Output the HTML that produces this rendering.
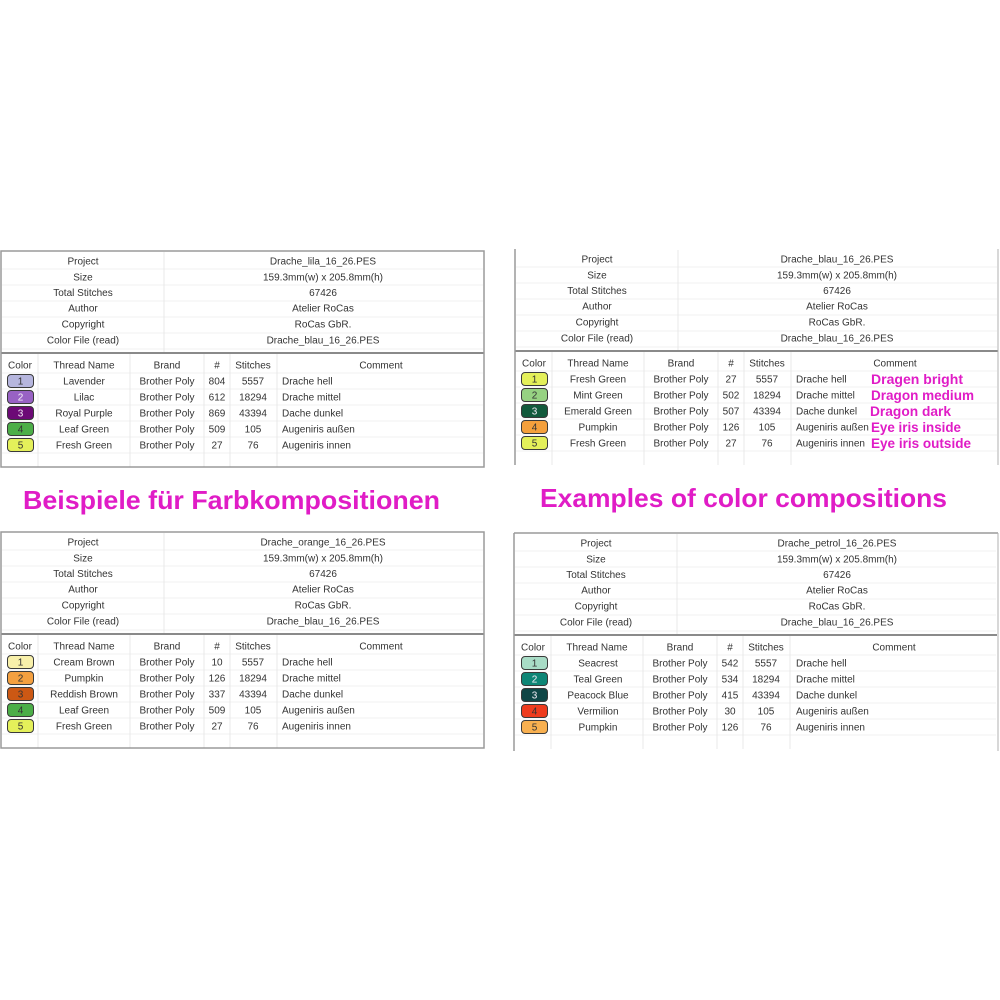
<!DOCTYPE html>
<html><head><meta charset="utf-8">
<style>
html,body{margin:0;padding:0;background:#fff;}
svg{display:block;}
text{font-family:"Liberation Sans",sans-serif;font-size:10px;fill:#333;}
.c{text-anchor:middle;}
.w{fill:#f4eef8;}
.h{font-weight:bold;font-size:26px;fill:#e01cc6;}
.p{font-weight:bold;font-size:14px;fill:#e01cc6;}
.sw{stroke:#3a3a3a;stroke-width:1;}
</style></head>
<body>
<svg width="1000" height="1000" viewBox="0 0 1000 1000" xmlns="http://www.w3.org/2000/svg">
<defs>
<g id="grid">
  <g stroke="#f0f0f0" stroke-width="1">
    <line x1="1" y1="18" x2="482" y2="18"/>
    <line x1="1" y1="34" x2="482" y2="34"/>
    <line x1="1" y1="50" x2="482" y2="50"/>
    <line x1="1" y1="66" x2="482" y2="66"/>
    <line x1="1" y1="82" x2="482" y2="82"/>
    <line x1="1" y1="98" x2="482" y2="98"/>
    <line x1="1" y1="122" x2="482" y2="122"/>
    <line x1="1" y1="138" x2="482" y2="138"/>
    <line x1="1" y1="154" x2="482" y2="154"/>
    <line x1="1" y1="170" x2="482" y2="170"/>
    <line x1="1" y1="186" x2="482" y2="186"/>
    <line x1="1" y1="202" x2="482" y2="202"/>
  </g>
  <g stroke="#e8e8e8" stroke-width="1">
    <line x1="163" y1="1" x2="163" y2="101"/>
    <line x1="37" y1="103" x2="37" y2="216"/>
    <line x1="129" y1="103" x2="129" y2="216"/>
    <line x1="203" y1="103" x2="203" y2="216"/>
    <line x1="229" y1="103" x2="229" y2="216"/>
    <line x1="276" y1="103" x2="276" y2="216"/>
  </g>
  <line x1="0" y1="102" x2="483" y2="102" stroke="#8a8a8a" stroke-width="2"/>
</g>
</defs>

<rect width="1000" height="1000" fill="#fff"/>

<!-- ============ TABLE 1 (top-left) ============ -->
<g transform="translate(1,251)">
  <use href="#grid"/>
  <rect x="0" y="0" width="483" height="216" fill="none" stroke="#9a9a9a" stroke-width="1.5"/>
  <text class="c" x="82" y="13.5">Project</text>
  <text class="c" x="82" y="29.5">Size</text>
  <text class="c" x="82" y="45">Total Stitches</text>
  <text class="c" x="82" y="60.5">Author</text>
  <text class="c" x="82" y="76.5">Copyright</text>
  <text class="c" x="82" y="92.5">Color File (read)</text>
  <text class="c" x="322" y="13.5">Drache_lila_16_26.PES</text>
  <text class="c" x="322" y="29.5">159.3mm(w) x 205.8mm(h)</text>
  <text class="c" x="322" y="45">67426</text>
  <text class="c" x="322" y="60.5">Atelier RoCas</text>
  <text class="c" x="322" y="76.5">RoCas GbR.</text>
  <text class="c" x="322" y="92.5">Drache_blau_16_26.PES</text>

  <text class="c" x="19" y="117.5">Color</text>
  <text class="c" x="83" y="117.5">Thread Name</text>
  <text class="c" x="166" y="117.5">Brand</text>
  <text class="c" x="216" y="117.5">#</text>
  <text class="c" x="252" y="117.5">Stitches</text>
  <text class="c" x="380" y="117.5">Comment</text>

  <rect class="sw" x="6.5" y="123.5" width="26" height="13" rx="3.5" fill="#b6b6de"/>
  <rect class="sw" x="6.5" y="139.5" width="26" height="13" rx="3.5" fill="#9862c4"/>
  <rect class="sw" x="6.5" y="155.5" width="26" height="13" rx="3.5" fill="#6c0a76"/>
  <rect class="sw" x="6.5" y="171.5" width="26" height="13" rx="3.5" fill="#4cae48"/>
  <rect class="sw" x="6.5" y="187.5" width="26" height="13" rx="3.5" fill="#e4f05a"/>
  <text class="c" x="19.5" y="133.5">1</text>
  <text class="c w" x="19.5" y="149.5">2</text>
  <text class="c w" x="19.5" y="165.5">3</text>
  <text class="c" x="19.5" y="181.5">4</text>
  <text class="c" x="19.5" y="197.5">5</text>

  <text class="c" x="83" y="133.5">Lavender</text>
  <text class="c" x="83" y="149.5">Lilac</text>
  <text class="c" x="83" y="165.5">Royal Purple</text>
  <text class="c" x="83" y="181.5">Leaf Green</text>
  <text class="c" x="83" y="197.5">Fresh Green</text>
  <text class="c" x="166" y="133.5">Brother Poly</text>
  <text class="c" x="166" y="149.5">Brother Poly</text>
  <text class="c" x="166" y="165.5">Brother Poly</text>
  <text class="c" x="166" y="181.5">Brother Poly</text>
  <text class="c" x="166" y="197.5">Brother Poly</text>
  <text class="c" x="216" y="133.5">804</text>
  <text class="c" x="216" y="149.5">612</text>
  <text class="c" x="216" y="165.5">869</text>
  <text class="c" x="216" y="181.5">509</text>
  <text class="c" x="216" y="197.5">27</text>
  <text class="c" x="252" y="133.5">5557</text>
  <text class="c" x="252" y="149.5">18294</text>
  <text class="c" x="252" y="165.5">43394</text>
  <text class="c" x="252" y="181.5">105</text>
  <text class="c" x="252" y="197.5">76</text>
  <text x="281" y="133.5">Drache hell</text>
  <text x="281" y="149.5">Drache mittel</text>
  <text x="281" y="165.5">Dache dunkel</text>
  <text x="281" y="181.5">Augeniris außen</text>
  <text x="281" y="197.5">Augeniris innen</text>
</g>

<!-- ============ TABLE 2 (top-right) ============ -->
<g transform="translate(515,249)">
  <use href="#grid"/>
  <line x1="0" y1="0" x2="0" y2="216" stroke="#9a9a9a" stroke-width="1.5"/>
  <line x1="483" y1="0" x2="483" y2="216" stroke="#b0b0b0" stroke-width="1"/>
  <text class="c" x="82" y="13.5">Project</text>
  <text class="c" x="82" y="29.5">Size</text>
  <text class="c" x="82" y="45">Total Stitches</text>
  <text class="c" x="82" y="60.5">Author</text>
  <text class="c" x="82" y="76.5">Copyright</text>
  <text class="c" x="82" y="92.5">Color File (read)</text>
  <text class="c" x="322" y="13.5">Drache_blau_16_26.PES</text>
  <text class="c" x="322" y="29.5">159.3mm(w) x 205.8mm(h)</text>
  <text class="c" x="322" y="45">67426</text>
  <text class="c" x="322" y="60.5">Atelier RoCas</text>
  <text class="c" x="322" y="76.5">RoCas GbR.</text>
  <text class="c" x="322" y="92.5">Drache_blau_16_26.PES</text>

  <text class="c" x="19" y="117.5">Color</text>
  <text class="c" x="83" y="117.5">Thread Name</text>
  <text class="c" x="166" y="117.5">Brand</text>
  <text class="c" x="216" y="117.5">#</text>
  <text class="c" x="252" y="117.5">Stitches</text>
  <text class="c" x="380" y="117.5">Comment</text>

  <rect class="sw" x="6.5" y="123.5" width="26" height="13" rx="3.5" fill="#e4f05a"/>
  <rect class="sw" x="6.5" y="139.5" width="26" height="13" rx="3.5" fill="#96d282"/>
  <rect class="sw" x="6.5" y="155.5" width="26" height="13" rx="3.5" fill="#125a3c"/>
  <rect class="sw" x="6.5" y="171.5" width="26" height="13" rx="3.5" fill="#f4a03c"/>
  <rect class="sw" x="6.5" y="187.5" width="26" height="13" rx="3.5" fill="#e4f05a"/>
  <text class="c" x="19.5" y="133.5">1</text>
  <text class="c" x="19.5" y="149.5">2</text>
  <text class="c w" x="19.5" y="165.5">3</text>
  <text class="c" x="19.5" y="181.5">4</text>
  <text class="c" x="19.5" y="197.5">5</text>

  <text class="c" x="83" y="133.5">Fresh Green</text>
  <text class="c" x="83" y="149.5">Mint Green</text>
  <text class="c" x="83" y="165.5">Emerald Green</text>
  <text class="c" x="83" y="181.5">Pumpkin</text>
  <text class="c" x="83" y="197.5">Fresh Green</text>
  <text class="c" x="166" y="133.5">Brother Poly</text>
  <text class="c" x="166" y="149.5">Brother Poly</text>
  <text class="c" x="166" y="165.5">Brother Poly</text>
  <text class="c" x="166" y="181.5">Brother Poly</text>
  <text class="c" x="166" y="197.5">Brother Poly</text>
  <text class="c" x="216" y="133.5">27</text>
  <text class="c" x="216" y="149.5">502</text>
  <text class="c" x="216" y="165.5">507</text>
  <text class="c" x="216" y="181.5">126</text>
  <text class="c" x="216" y="197.5">27</text>
  <text class="c" x="252" y="133.5">5557</text>
  <text class="c" x="252" y="149.5">18294</text>
  <text class="c" x="252" y="165.5">43394</text>
  <text class="c" x="252" y="181.5">105</text>
  <text class="c" x="252" y="197.5">76</text>
  <text x="281" y="133.5">Drache hell</text>
  <text x="281" y="149.5">Drache mittel</text>
  <text x="281" y="165.5">Dache dunkel</text>
  <text x="281" y="181.5">Augeniris außen</text>
  <text x="281" y="197.5">Augeniris innen</text>

  <text class="p" x="356" y="135" textLength="92" lengthAdjust="spacingAndGlyphs">Dragen bright</text>
  <text class="p" x="356" y="151" textLength="103" lengthAdjust="spacingAndGlyphs">Dragon medium</text>
  <text class="p" x="355" y="167" textLength="81" lengthAdjust="spacingAndGlyphs">Dragon dark</text>
  <text class="p" x="356" y="183" textLength="90" lengthAdjust="spacingAndGlyphs">Eye iris inside</text>
  <text class="p" x="356" y="199" textLength="100" lengthAdjust="spacingAndGlyphs">Eye iris outside</text>
</g>

<!-- ============ HEADINGS ============ -->
<text class="h" x="23" y="509" textLength="417" lengthAdjust="spacingAndGlyphs">Beispiele für Farbkompositionen</text>
<text class="h" x="540" y="507" textLength="407" lengthAdjust="spacingAndGlyphs">Examples of color compositions</text>

<!-- ============ TABLE 3 (bottom-left) ============ -->
<g transform="translate(1,532)">
  <use href="#grid"/>
  <rect x="0" y="0" width="483" height="216" fill="none" stroke="#9a9a9a" stroke-width="1.5"/>
  <text class="c" x="82" y="13.5">Project</text>
  <text class="c" x="82" y="29.5">Size</text>
  <text class="c" x="82" y="45">Total Stitches</text>
  <text class="c" x="82" y="60.5">Author</text>
  <text class="c" x="82" y="76.5">Copyright</text>
  <text class="c" x="82" y="92.5">Color File (read)</text>
  <text class="c" x="322" y="13.5">Drache_orange_16_26.PES</text>
  <text class="c" x="322" y="29.5">159.3mm(w) x 205.8mm(h)</text>
  <text class="c" x="322" y="45">67426</text>
  <text class="c" x="322" y="60.5">Atelier RoCas</text>
  <text class="c" x="322" y="76.5">RoCas GbR.</text>
  <text class="c" x="322" y="92.5">Drache_blau_16_26.PES</text>

  <text class="c" x="19" y="117.5">Color</text>
  <text class="c" x="83" y="117.5">Thread Name</text>
  <text class="c" x="166" y="117.5">Brand</text>
  <text class="c" x="216" y="117.5">#</text>
  <text class="c" x="252" y="117.5">Stitches</text>
  <text class="c" x="380" y="117.5">Comment</text>

  <rect class="sw" x="6.5" y="123.5" width="26" height="13" rx="3.5" fill="#f8f0aa"/>
  <rect class="sw" x="6.5" y="139.5" width="26" height="13" rx="3.5" fill="#f4a040"/>
  <rect class="sw" x="6.5" y="155.5" width="26" height="13" rx="3.5" fill="#cc5814"/>
  <rect class="sw" x="6.5" y="171.5" width="26" height="13" rx="3.5" fill="#4cae48"/>
  <rect class="sw" x="6.5" y="187.5" width="26" height="13" rx="3.5" fill="#e4f05a"/>
  <text class="c" x="19.5" y="133.5">1</text>
  <text class="c" x="19.5" y="149.5">2</text>
  <text class="c" x="19.5" y="165.5">3</text>
  <text class="c" x="19.5" y="181.5">4</text>
  <text class="c" x="19.5" y="197.5">5</text>

  <text class="c" x="83" y="133.5">Cream Brown</text>
  <text class="c" x="83" y="149.5">Pumpkin</text>
  <text class="c" x="83" y="165.5">Reddish Brown</text>
  <text class="c" x="83" y="181.5">Leaf Green</text>
  <text class="c" x="83" y="197.5">Fresh Green</text>
  <text class="c" x="166" y="133.5">Brother Poly</text>
  <text class="c" x="166" y="149.5">Brother Poly</text>
  <text class="c" x="166" y="165.5">Brother Poly</text>
  <text class="c" x="166" y="181.5">Brother Poly</text>
  <text class="c" x="166" y="197.5">Brother Poly</text>
  <text class="c" x="216" y="133.5">10</text>
  <text class="c" x="216" y="149.5">126</text>
  <text class="c" x="216" y="165.5">337</text>
  <text class="c" x="216" y="181.5">509</text>
  <text class="c" x="216" y="197.5">27</text>
  <text class="c" x="252" y="133.5">5557</text>
  <text class="c" x="252" y="149.5">18294</text>
  <text class="c" x="252" y="165.5">43394</text>
  <text class="c" x="252" y="181.5">105</text>
  <text class="c" x="252" y="197.5">76</text>
  <text x="281" y="133.5">Drache hell</text>
  <text x="281" y="149.5">Drache mittel</text>
  <text x="281" y="165.5">Dache dunkel</text>
  <text x="281" y="181.5">Augeniris außen</text>
  <text x="281" y="197.5">Augeniris innen</text>
</g>

<!-- ============ TABLE 4 (bottom-right) ============ -->
<g transform="translate(514,533)">
  <use href="#grid"/>
  <line x1="0" y1="0" x2="484" y2="0" stroke="#9a9a9a" stroke-width="1.5"/>
  <line x1="0" y1="0" x2="0" y2="218" stroke="#9a9a9a" stroke-width="1.5"/>
  <line x1="484" y1="0" x2="484" y2="218" stroke="#b0b0b0" stroke-width="1"/>
  <text class="c" x="82" y="13.5">Project</text>
  <text class="c" x="82" y="29.5">Size</text>
  <text class="c" x="82" y="45">Total Stitches</text>
  <text class="c" x="82" y="60.5">Author</text>
  <text class="c" x="82" y="76.5">Copyright</text>
  <text class="c" x="82" y="92.5">Color File (read)</text>
  <text class="c" x="323" y="13.5">Drache_petrol_16_26.PES</text>
  <text class="c" x="323" y="29.5">159.3mm(w) x 205.8mm(h)</text>
  <text class="c" x="323" y="45">67426</text>
  <text class="c" x="323" y="60.5">Atelier RoCas</text>
  <text class="c" x="323" y="76.5">RoCas GbR.</text>
  <text class="c" x="323" y="92.5">Drache_blau_16_26.PES</text>

  <text class="c" x="19" y="117.5">Color</text>
  <text class="c" x="83" y="117.5">Thread Name</text>
  <text class="c" x="166" y="117.5">Brand</text>
  <text class="c" x="216" y="117.5">#</text>
  <text class="c" x="252" y="117.5">Stitches</text>
  <text class="c" x="380" y="117.5">Comment</text>

  <rect class="sw" x="7.5" y="123.5" width="26" height="13" rx="3.5" fill="#a8dcc6"/>
  <rect class="sw" x="7.5" y="139.5" width="26" height="13" rx="3.5" fill="#0e8676"/>
  <rect class="sw" x="7.5" y="155.5" width="26" height="13" rx="3.5" fill="#0f4646"/>
  <rect class="sw" x="7.5" y="171.5" width="26" height="13" rx="3.5" fill="#ee3c1e"/>
  <rect class="sw" x="7.5" y="187.5" width="26" height="13" rx="3.5" fill="#f8b050"/>
  <text class="c" x="20.5" y="133.5">1</text>
  <text class="c w" x="20.5" y="149.5">2</text>
  <text class="c w" x="20.5" y="165.5">3</text>
  <text class="c" x="20.5" y="181.5">4</text>
  <text class="c" x="20.5" y="197.5">5</text>

  <text class="c" x="84" y="133.5">Seacrest</text>
  <text class="c" x="84" y="149.5">Teal Green</text>
  <text class="c" x="84" y="165.5">Peacock Blue</text>
  <text class="c" x="84" y="181.5">Vermilion</text>
  <text class="c" x="84" y="197.5">Pumpkin</text>
  <text class="c" x="166" y="133.5">Brother Poly</text>
  <text class="c" x="166" y="149.5">Brother Poly</text>
  <text class="c" x="166" y="165.5">Brother Poly</text>
  <text class="c" x="166" y="181.5">Brother Poly</text>
  <text class="c" x="166" y="197.5">Brother Poly</text>
  <text class="c" x="216" y="133.5">542</text>
  <text class="c" x="216" y="149.5">534</text>
  <text class="c" x="216" y="165.5">415</text>
  <text class="c" x="216" y="181.5">30</text>
  <text class="c" x="216" y="197.5">126</text>
  <text class="c" x="252" y="133.5">5557</text>
  <text class="c" x="252" y="149.5">18294</text>
  <text class="c" x="252" y="165.5">43394</text>
  <text class="c" x="252" y="181.5">105</text>
  <text class="c" x="252" y="197.5">76</text>
  <text x="282" y="133.5">Drache hell</text>
  <text x="282" y="149.5">Drache mittel</text>
  <text x="282" y="165.5">Dache dunkel</text>
  <text x="282" y="181.5">Augeniris außen</text>
  <text x="282" y="197.5">Augeniris innen</text>
</g>
</svg>
</body></html>
